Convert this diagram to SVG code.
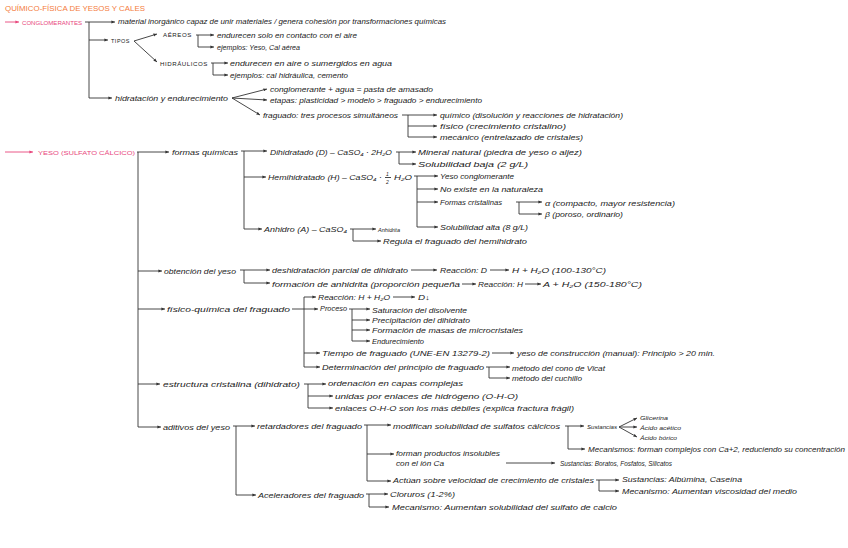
<svg xmlns="http://www.w3.org/2000/svg" width="848" height="548" viewBox="0 0 848 548">
<style>
text{font-family:"Liberation Sans","DejaVu Sans",sans-serif;font-style:italic;font-size:7px;fill:#1a1a1a}
.cap{font-style:normal;font-size:5.5px;letter-spacing:0.5px}
.pink{fill:#e8457c;font-style:normal;font-size:6px}
.title{fill:#f47c3c;font-style:normal;font-size:7px}
.sm{font-size:6px}
.fr{font-size:5px}
.ln{fill:none;stroke:#333;stroke-width:0.9}
.ar{fill:none;stroke:#333;stroke-width:0.9;marker-end:url(#ah)}
.pk{fill:none;stroke:#e8457c;stroke-width:0.9;marker-end:url(#ahp)}
</style>
<defs>
<marker id="ah" viewBox="0 0 6 6" refX="6" refY="3" markerWidth="4" markerHeight="4" orient="auto"><path d="M0,0.5 L6,3 L0,5.5 z" fill="#333"/></marker>
<marker id="ahp" viewBox="0 0 6 6" refX="6" refY="3" markerWidth="4" markerHeight="4" orient="auto"><path d="M0,0.5 L6,3 L0,5.5 z" fill="#e8457c"/></marker>
</defs>
<rect width="848" height="548" fill="#fff"/>
<g id="connectors">
<path class="pk" d="M5,22 H19"/>
<path class="ar" d="M85,22 H115"/><path class="ln" d="M89,22 V98"/><path class="ar" d="M89,40 H108"/><path class="ar" d="M89,98 H112"/>
<path class="ar" d="M134,41 L157,34"/><path class="ar" d="M134,41 L157,62"/>
<path class="ar" d="M196,35 H214"/><path class="ar" d="M198,35 V47 H214"/>
<path class="ar" d="M211,63 H228"/><path class="ar" d="M213,63 V75 H228"/>
<path class="ar" d="M232,98 L267,89"/><path class="ar" d="M232,98 L267,100"/><path class="ar" d="M232,98 L260,115"/>
<path class="ar" d="M402,115 H437"/><path class="ar" d="M408,115 V137 H437"/><path class="ar" d="M408,126 H437"/>
<path class="pk" d="M5,152 H33"/>
<path class="ar" d="M137,152 H169"/><path class="ar" d="M138,152 V427 H161"/><path class="ar" d="M138,271 H162"/><path class="ar" d="M138,309 H165"/><path class="ar" d="M138,384 H160"/>
<path class="ar" d="M241,151 H267"/><path class="ar" d="M244,151 V229 H262"/><path class="ar" d="M244,177 H266"/>
<path class="ar" d="M396,152 H416"/><path class="ar" d="M399,152 V164 H416"/>
<path class="ar" d="M414,176 H438"/><path class="ar" d="M417,176 V227 H438"/><path class="ar" d="M417,189 H438"/><path class="ar" d="M417,202 H438"/>
<path class="ar" d="M516,202 H542"/><path class="ar" d="M519,202 V214 H542"/>
<path class="ar" d="M350,229 H376"/><path class="ar" d="M353,229 V241 H381"/>
<path class="ar" d="M240,270 H270"/><path class="ar" d="M244,270 V283 H270"/>
<path class="ar" d="M411,270 H437"/><path class="ar" d="M490,270 H509"/>
<path class="ar" d="M462,284 H476"/><path class="ar" d="M525,284 H541"/>
<path class="ar" d="M292,309 H318"/><path class="ar" d="M304,297 H316"/><path class="ar" d="M304,297 V367 H320"/><path class="ar" d="M304,353 H320"/>
<path class="ar" d="M393,297 H415"/>
<path class="ar" d="M349,309 H370"/><path class="ar" d="M352,309 V341 H370"/><path class="ar" d="M352,320 H370"/><path class="ar" d="M352,330 H370"/>
<path class="ar" d="M492,353 H514"/>
<path class="ar" d="M486,367 H510"/><path class="ar" d="M489,367 V378 H510"/>
<path class="ar" d="M304,384 H326"/><path class="ar" d="M308,384 V408 H333"/><path class="ar" d="M308,396 H333"/>
<path class="ar" d="M233,426 H255"/><path class="ar" d="M236,426 V495 H256"/>
<path class="ar" d="M364,425 H391"/><path class="ar" d="M367,425 V481 H391"/><path class="ar" d="M367,454 H394"/>
<path class="ar" d="M506,463 H555"/>
<path class="ar" d="M565,426 H584"/><path class="ar" d="M568,426 V449 H585"/>
<path class="ar" d="M619,427 L637,418"/><path class="ar" d="M619,427 H637"/><path class="ar" d="M619,427 L637,437"/>
<path class="ar" d="M596,480 H619"/><path class="ar" d="M599,480 V491 H619"/>
<path class="ar" d="M366,494 H388"/><path class="ar" d="M369,494 V507 H389"/>
</g>
<g id="title"><text class="title" x="5" y="11" textLength="140" lengthAdjust="spacingAndGlyphs">QUÍMICO-FÍSICA DE YESOS Y CALES</text></g>
<g id="conglomerantes"><text class="pink" x="22" y="24.5" textLength="60" lengthAdjust="spacingAndGlyphs">CONGLOMERANTES</text></g>
<g id="material"><text x="118" y="23.5" textLength="328" lengthAdjust="spacingAndGlyphs">material inorgánico capaz de unir materiales / genera cohesión por transformaciones químicas</text></g>
<g id="tipos"><text class="cap" x="111" y="42.5" textLength="19" lengthAdjust="spacingAndGlyphs">TIPOS</text></g>
<g id="aereos"><text class="cap" x="163" y="36.5" textLength="29" lengthAdjust="spacingAndGlyphs">AÉREOS</text></g>
<g id="hidraulicos"><text class="cap" x="160" y="65.5" textLength="48" lengthAdjust="spacingAndGlyphs">HIDRÁULICOS</text></g>
<g id="aereos-1"><text x="217" y="37.5" textLength="140" lengthAdjust="spacingAndGlyphs">endurecen solo en contacto con el aire</text></g>
<g id="aereos-2"><text x="217" y="49.5" textLength="83" lengthAdjust="spacingAndGlyphs">ejemplos: Yeso, Cal aérea</text></g>
<g id="hidr-1"><text x="230" y="65.5" textLength="162" lengthAdjust="spacingAndGlyphs">endurecen en aire o sumergidos en agua</text></g>
<g id="hidr-2"><text x="230" y="77.5" textLength="118" lengthAdjust="spacingAndGlyphs">ejemplos: cal hidráulica, cemento</text></g>
<g id="hidratacion"><text x="115" y="100.5" textLength="113" lengthAdjust="spacingAndGlyphs">hidratación y endurecimiento</text></g>
<g id="hid-1"><text x="270" y="91.5" textLength="163" lengthAdjust="spacingAndGlyphs">conglomerante + agua = pasta de amasado</text></g>
<g id="hid-2"><text x="270" y="102.5" textLength="212" lengthAdjust="spacingAndGlyphs">etapas: plasticidad &gt; modelo &gt; fraguado &gt; endurecimiento</text></g>
<g id="hid-3"><text x="263" y="117.5" textLength="135" lengthAdjust="spacingAndGlyphs">fraguado: tres procesos simultáneos</text></g>
<g id="frag-1"><text x="440" y="118" textLength="183" lengthAdjust="spacingAndGlyphs">químico (disolución y reacciones de hidratación)</text></g>
<g id="frag-2"><text x="440" y="128.5" textLength="126" lengthAdjust="spacingAndGlyphs">físico (crecimiento cristalino)</text></g>
<g id="frag-3"><text x="440" y="139.5" textLength="143" lengthAdjust="spacingAndGlyphs">mecánico (entrelazado de cristales)</text></g>
<g id="yeso"><text class="pink" x="38" y="154.5" textLength="97" lengthAdjust="spacingAndGlyphs">YESO (SULFATO CÁLCICO)</text></g>
<g id="formas"><text x="172" y="154.5" textLength="66" lengthAdjust="spacingAndGlyphs">formas químicas</text></g>
<g id="dihidratado"><text x="270" y="154.5" textLength="122" lengthAdjust="spacingAndGlyphs">Dihidratado (D) – CaSO₄ · 2H₂O</text></g>
<g id="hemihidratado"><text x="268" y="179.5" textLength="114" lengthAdjust="spacingAndGlyphs">Hemihidratado (H) – CaSO₄ ·</text><text class="fr" x="386" y="176">1</text><path class="ln" d="M385,177.5 H391"/><text class="fr" x="386" y="183.5">2</text><text x="394" y="179.5" textLength="18" lengthAdjust="spacingAndGlyphs">H₂O</text></g>
<g id="di-1"><text x="418" y="154.5" textLength="164" lengthAdjust="spacingAndGlyphs">Mineral natural (piedra de yeso o aljez)</text></g>
<g id="di-2"><text x="418" y="166.5" textLength="110" lengthAdjust="spacingAndGlyphs">Solubilidad baja (2 g/L)</text></g>
<g id="he-1"><text x="440" y="178.5" textLength="74" lengthAdjust="spacingAndGlyphs">Yeso conglomerante</text></g>
<g id="he-2"><text x="440" y="191.5" textLength="103" lengthAdjust="spacingAndGlyphs">No existe en la naturaleza</text></g>
<g id="he-3"><text x="440" y="204.5" textLength="62" lengthAdjust="spacingAndGlyphs">Formas cristalinas</text></g>
<g id="he-4"><text x="440" y="229.5" textLength="88" lengthAdjust="spacingAndGlyphs">Solubilidad alta (8 g/L)</text></g>
<g id="alfa"><text x="545" y="205.5" textLength="130" lengthAdjust="spacingAndGlyphs">α (compacto, mayor resistencia)</text></g>
<g id="beta"><text x="545" y="216.5" textLength="78" lengthAdjust="spacingAndGlyphs">β (poroso, ordinario)</text></g>
<g id="anhidro"><text x="264" y="231.5" textLength="83" lengthAdjust="spacingAndGlyphs">Anhidro (A) – CaSO₄</text></g>
<g id="an-1"><text class="sm" x="378" y="232" textLength="22" lengthAdjust="spacingAndGlyphs">Anhidrita</text></g>
<g id="an-2"><text x="383" y="243.5" textLength="144" lengthAdjust="spacingAndGlyphs">Regula el fraguado del hemihidrato</text></g>
<g id="obtencion"><text x="164" y="273.5" textLength="72" lengthAdjust="spacingAndGlyphs">obtención del yeso</text></g>
<g id="ob-1"><text x="272" y="272.5" textLength="136" lengthAdjust="spacingAndGlyphs">deshidratación parcial de dihidrato</text></g>
<g id="ob-1r"><text x="440" y="272.5" textLength="47" lengthAdjust="spacingAndGlyphs">Reacción: D</text><text x="512" y="272.5" textLength="94" lengthAdjust="spacingAndGlyphs">H + H₂O (100-130°C)</text></g>
<g id="ob-2"><text x="272" y="286.5" textLength="188" lengthAdjust="spacingAndGlyphs">formación de anhidrita (proporción pequeña</text></g>
<g id="ob-2r"><text x="478" y="286.5" textLength="45" lengthAdjust="spacingAndGlyphs">Reacción: H</text><text x="543" y="286.5" textLength="99" lengthAdjust="spacingAndGlyphs">A + H₂O (150-180°C)</text></g>
<g id="fisicoquimica"><text x="167" y="311.5" textLength="123" lengthAdjust="spacingAndGlyphs">físico-química del fraguado</text></g>
<g id="fq-1"><text x="318" y="299.5" textLength="72" lengthAdjust="spacingAndGlyphs">Reacción: H + H₂O</text><text x="418" y="299.5" textLength="12" lengthAdjust="spacingAndGlyphs">D↓</text></g>
<g id="proceso"><text x="320" y="311" textLength="27" lengthAdjust="spacingAndGlyphs">Proceso</text></g>
<g id="pr-1"><text x="372" y="312.5" textLength="95" lengthAdjust="spacingAndGlyphs">Saturación del disolvente</text></g>
<g id="pr-2"><text x="372" y="322.5" textLength="98" lengthAdjust="spacingAndGlyphs">Precipitación del dihidrato</text></g>
<g id="pr-3"><text x="372" y="332.5" textLength="151" lengthAdjust="spacingAndGlyphs">Formación de masas de microcristales</text></g>
<g id="pr-4"><text x="372" y="343.5" textLength="52" lengthAdjust="spacingAndGlyphs">Endurecimiento</text></g>
<g id="tiempo"><text x="322" y="355.5" textLength="168" lengthAdjust="spacingAndGlyphs">Tiempo de fraguado (UNE-EN 13279-2)</text></g>
<g id="tiempo-r"><text x="517" y="355.5" textLength="198" lengthAdjust="spacingAndGlyphs">yeso de construcción (manual): Principio &gt; 20 min.</text></g>
<g id="determinacion"><text x="322" y="369.5" textLength="162" lengthAdjust="spacingAndGlyphs">Determinación del principio de fraguado</text></g>
<g id="de-1"><text x="512" y="370.5" textLength="93" lengthAdjust="spacingAndGlyphs">método del cono de Vicat</text></g>
<g id="de-2"><text x="512" y="380.5" textLength="70" lengthAdjust="spacingAndGlyphs">método del cuchillo</text></g>
<g id="estructura"><text x="163" y="386.5" textLength="137" lengthAdjust="spacingAndGlyphs">estructura cristalina (dihidrato)</text></g>
<g id="es-1"><text x="328" y="385.5" textLength="135" lengthAdjust="spacingAndGlyphs">ordenación en capas complejas</text></g>
<g id="es-2"><text x="335" y="398.5" textLength="183" lengthAdjust="spacingAndGlyphs">unidas por enlaces de hidrógeno (O-H-O)</text></g>
<g id="es-3"><text x="335" y="410.5" textLength="239" lengthAdjust="spacingAndGlyphs">enlaces O-H-O son los más débiles (explica fractura frágil)</text></g>
<g id="aditivos"><text x="163" y="429.5" textLength="67" lengthAdjust="spacingAndGlyphs">aditivos del yeso</text></g>
<g id="retardadores"><text x="257" y="428.5" textLength="105" lengthAdjust="spacingAndGlyphs">retardadores del fraguado</text></g>
<g id="aceleradores"><text x="258" y="497.5" textLength="106" lengthAdjust="spacingAndGlyphs">Aceleradores del fraguado</text></g>
<g id="re-1"><text x="393" y="428.5" textLength="167" lengthAdjust="spacingAndGlyphs">modifican solubilidad de sulfatos cálcicos</text></g>
<g id="re-2"><text x="396" y="455.5" textLength="104" lengthAdjust="spacingAndGlyphs">forman productos insolubles</text><text x="396" y="465.5" textLength="48" lengthAdjust="spacingAndGlyphs">con el ión Ca</text></g>
<g id="re-2r"><text x="560" y="465.5" textLength="112" lengthAdjust="spacingAndGlyphs">Sustancias: Boratos, Fosfatos, Silicatos</text></g>
<g id="re-3"><text x="393" y="482.5" textLength="201" lengthAdjust="spacingAndGlyphs">Actúan sobre velocidad de crecimiento de cristales</text></g>
<g id="sustancias"><text class="sm" x="587" y="428.5" textLength="30" lengthAdjust="spacingAndGlyphs">Sustancias</text></g>
<g id="su-1"><text class="sm" x="640" y="419.5" textLength="28" lengthAdjust="spacingAndGlyphs">Glicerina</text></g>
<g id="su-2"><text class="sm" x="640" y="429.5" textLength="41" lengthAdjust="spacingAndGlyphs">Ácido acético</text></g>
<g id="su-3"><text class="sm" x="640" y="439.5" textLength="37" lengthAdjust="spacingAndGlyphs">Ácido bórico</text></g>
<g id="mecanismos"><text x="588" y="451.5" textLength="257" lengthAdjust="spacingAndGlyphs">Mecanismos: forman complejos con Ca+2, reduciendo su concentración</text></g>
<g id="ac-1"><text x="622" y="481.5" textLength="120" lengthAdjust="spacingAndGlyphs">Sustancias: Albúmina, Caseína</text></g>
<g id="ac-2"><text x="622" y="493.5" textLength="175" lengthAdjust="spacingAndGlyphs">Mecanismo: Aumentan viscosidad del medio</text></g>
<g id="acel-1"><text x="390" y="496.5" textLength="65" lengthAdjust="spacingAndGlyphs">Cloruros (1-2%)</text></g>
<g id="acel-2"><text x="392" y="509.5" textLength="225" lengthAdjust="spacingAndGlyphs">Mecanismo: Aumentan solubilidad del sulfato de calcio</text></g>
</svg>
